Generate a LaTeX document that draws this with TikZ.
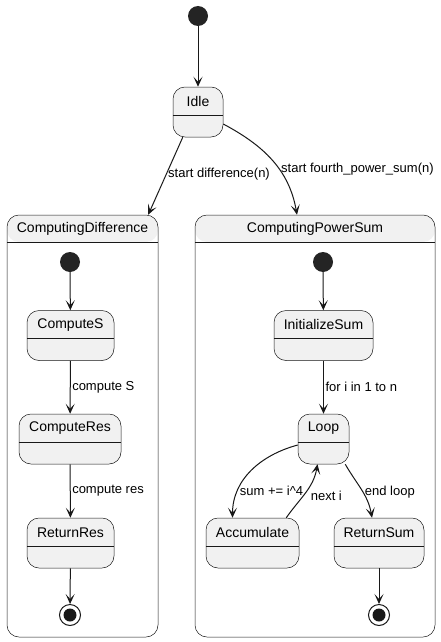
\documentclass[tikz,border=0pt]{standalone}
\usepackage{fontspec}
\setmainfont{Liberation Sans}
\usetikzlibrary{arrows.meta}
\definecolor{statefill}{HTML}{F1F1F1}
\definecolor{ink}{HTML}{181818}
\tikzset{statebox/.style={draw=ink, line width=.5pt, fill=statefill, rounded corners=12pt,
   minimum height=50pt, inner sep=0pt},
 composite/.style={draw=ink, line width=.5pt, fill=white, rounded corners=12pt, inner sep=0pt,
   path picture={\fill[statefill] (path picture bounding box.north west) rectangle
   ([yshift=-27pt]path picture bounding box.north east);}},
 statename/.style={font=\fontsize{14}{16}\selectfont, inner sep=0pt},
 divider/.style={draw=ink, line width=.5pt},
 initdot/.style={circle, fill=ink!95, minimum size=20pt, inner sep=0pt},
 finaldot/.style={circle, draw=ink, line width=1pt, fill=white, minimum size=21pt, inner sep=0pt,
   path picture={\fill[ink] (path picture bounding box.center) circle (6.5pt);}},
 trans/.style={draw=ink, line width=1pt, -{Stealth[length=10pt,width=9pt,inset=5pt]}},
 lbl/.style={font=\fontsize{13}{15}\selectfont, inner sep=1.5pt, anchor=west},
 }

\begin{document}
\begin{tikzpicture}[x=1pt, y=-1pt]
        \useasboundingbox (0,0) rectangle (441,642);
        % composite states
        \node[composite, minimum width=151pt, minimum height=422pt] (cdiff) at (82.5,426) {};
        \node[composite, minimum width=240pt, minimum height=422pt] (cpow) at (315,426) {};
        \draw[divider] (7,242) -- (158,242);
        \draw[divider] (195,242) -- (435,242);
        \node[statename] (cdifft) at ([yshift=-14pt]cdiff.north) {ComputingDifference};
        \node[statename] (cpowt) at ([yshift=-14pt]cpow.north) {ComputingPowerSum};

        % simple states
        \foreach \n/\x/\y/\w/\t in {idle/198/112/50/Idle, comps/70.5/335.5/87/ComputeS,
            compres/70/439/102/ComputeRes, retres/70.5/543/87/ReturnRes,
            initsum/323.5/335.5/99/InitializeSum, loop/323.5/439/51/Loop,
            accum/252.5/543/93/Accumulate, retsum/379/543/90/ReturnSum} {
            \node[statebox, minimum width=\w pt] (\n) at (\x,\y) {};
            \node[statename] (\n-t) at ([yshift=-14.5pt]\n.north) {\t};
            \draw[divider] ([yshift=-28pt]\n.north west) -- ([yshift=-28pt]\n.north east);
        }

        % pseudo states
        \node[initdot] (start) at (198,16) {};
        \node[initdot] (dstart) at (70,262) {};
        \node[initdot] (pstart) at (323,262) {};
        \node[finaldot] (dend) at (70,615) {};
        \node[finaldot] (pend) at (379,615) {};

        % transitions
        \draw[trans] (start) -- (idle);
        \draw[trans] ([xshift=10pt]idle.south west) -- node[lbl, pos=.48] {start difference(n)} ([xshift=-10pt]cdiff.north east);
        \draw[trans] ([yshift=-12pt]idle.east) to[out=-28, in=100] node[lbl, pos=.6] {start fourth\_power\_sum(n)} ([xshift=-18pt]cpow.north);
        \draw[trans] (dstart) -- (comps);
        \draw[trans] (comps) -- node[lbl] {compute S} (compres);
        \draw[trans] (compres) -- node[lbl] {compute res} (retres);
        \draw[trans] (retres) -- (dend);
        \draw[trans] (pstart) -- (initsum);
        \draw[trans] (initsum) -- node[lbl] {for i in 1 to n} (loop);
        \draw[trans] ([yshift=-6pt]loop.west) to[out=195, in=90] node[lbl, pos=.74] {sum += i\^{}4} ([xshift=-20pt]accum.north);
        \draw[trans] ([xshift=-13pt]accum.north east) to[out=55, in=-100] node[lbl, pos=.45, xshift=5pt, yshift=-1pt] {next i} ([xshift=-6pt]loop.south);
        \draw[trans] ([xshift=-4pt]loop.south east) to[out=-60, in=100] node[lbl, pos=.55] {end loop} ([xshift=-7pt]retsum.north);
        \draw[trans] (retsum) -- (pend);
    \end{tikzpicture}
\end{document}
